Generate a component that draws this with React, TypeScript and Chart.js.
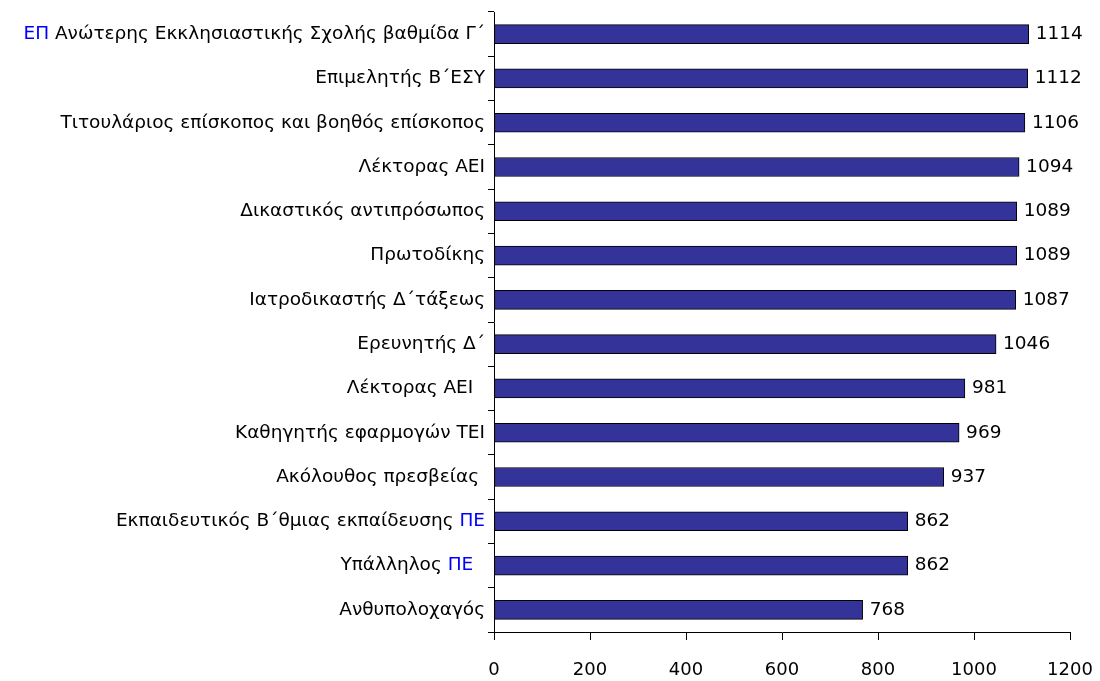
import React, { useEffect, useRef } from "react";
import { Chart, registerables } from "chart.js";

Chart.register(...registerables);

// label segments: [text, isBlue]
const categoryLabels: [string, boolean][][] = [
  [["ΕΠ", true], [" Ανώτερης Εκκλησιαστικής Σχολής βαθμίδα Γ΄", false]],
  [["Επιμελητής Β΄ΕΣΥ", false]],
  [["Τιτουλάριος επίσκοπος και βοηθός επίσκοπος", false]],
  [["Λέκτορας ΑΕΙ", false]],
  [["Δικαστικός αντιπρόσωπος", false]],
  [["Πρωτοδίκης", false]],
  [["Ιατροδικαστής Δ΄τάξεως", false]],
  [["Ερευνητής Δ΄", false]],
  [["Λέκτορας ΑΕΙ  ", false]],
  [["Καθηγητής εφαρμογών ΤΕΙ", false]],
  [["Ακόλουθος πρεσβείας ", false]],
  [["Εκπαιδευτικός Β΄θμιας εκπαίδευσης ", false], ["ΠΕ", true]],
  [["Υπάλληλος ", false], ["ΠΕ", true], ["  ", false]],
  [["Ανθυπολοχαγός", false]],
];

const values: number[] = [1114, 1112, 1106, 1094, 1089, 1089, 1087, 1046, 981, 969, 937, 862, 862, 768];

const xTicks: number[] = [0, 200, 400, 600, 800, 1000, 1200];

const FONT_FAMILY = "'DejaVu Sans', Tahoma, Verdana, sans-serif";
const FONT_SIZE = 18.5;

const labelPlugin = {
  id: "customLabels",
  afterDraw(chart: any) {
    const ctx = chart.ctx;
    const yScale = chart.scales.y;
    const meta = chart.getDatasetMeta(0);
    ctx.save();
    ctx.font = `${FONT_SIZE}px ${FONT_FAMILY}`;
    ctx.textBaseline = "middle";
    // category labels
    categoryLabels.forEach((segs, i) => {
      const y = yScale.getPixelForValue(i);
      let x = chart.chartArea.left - 9;
      for (let s = segs.length - 1; s >= 0; s--) {
        const [text, blue] = segs[s];
        const w = ctx.measureText(text).width;
        ctx.fillStyle = blue ? "#0000ff" : "#000000";
        ctx.textAlign = "left";
        ctx.fillText(text, x - w, y);
        x -= w;
      }
    });
    // value labels
    ctx.fillStyle = "#000000";
    ctx.textAlign = "left";
    meta.data.forEach((bar: any, i: number) => {
      ctx.fillText(String(values[i]), bar.x + 7, bar.y);
    });
    ctx.restore();
  },
};

export default function App() {
  const canvasRef = useRef<HTMLCanvasElement | null>(null);

  useEffect(() => {
    document.body.style.margin = "0";
    const canvas = canvasRef.current;
    if (!canvas) return;
    const chart = new Chart(canvas, {
      type: "bar",
      data: {
        labels: categoryLabels.map((segs) => segs.map((s) => s[0]).join("")),
        datasets: [
          {
            data: values,
            backgroundColor: "#333399",
            borderColor: "#000000",
            borderWidth: 1,
            borderSkipped: false,
            barThickness: 19,
          },
        ],
      },
      options: {
        indexAxis: "y",
        animation: false,
        responsive: false,
        maintainAspectRatio: false,
        devicePixelRatio: 1,
        layout: { padding: { top: 12, right: 30, bottom: 0, left: 0 } },
        plugins: {
          legend: { display: false },
          tooltip: { enabled: false },
          title: { display: false },
        },
        scales: {
          x: {
            min: 0,
            max: 1200,
            afterFit(scale: any) {
              scale.height = 49;
              scale.paddingLeft = 0;
              scale.paddingRight = 0;
            },
            afterBuildTicks(scale: any) {
              scale.ticks = xTicks.map((v) => ({ value: v }));
            },
            grid: {
              drawOnChartArea: false,
              drawTicks: true,
              tickLength: 8,
              color: "#000000",
              lineWidth: 1,
            },
            border: { display: true, color: "#000000", width: 1 },
            ticks: {
              color: "#000000",
              font: { family: FONT_FAMILY, size: 18 },
              padding: 20,
              maxRotation: 0,
              callback: (v: any) => String(v),
            },
          },
          y: {
            afterFit(scale: any) {
              scale.width = 494;
            },
            grid: {
              offset: true,
              drawOnChartArea: false,
              drawTicks: true,
              tickLength: 6,
              color: "#000000",
              lineWidth: 1,
            },
            border: { display: true, color: "#000000", width: 1 },
            ticks: { display: false },
          },
        },
      },
      plugins: [labelPlugin],
    });
    return () => chart.destroy();
  }, []);

  return (
    <div style={{ width: 1100, height: 681, background: "#ffffff" }}>
      <canvas ref={canvasRef} width={1100} height={681} style={{ display: "block" }} />
    </div>
  );
}
